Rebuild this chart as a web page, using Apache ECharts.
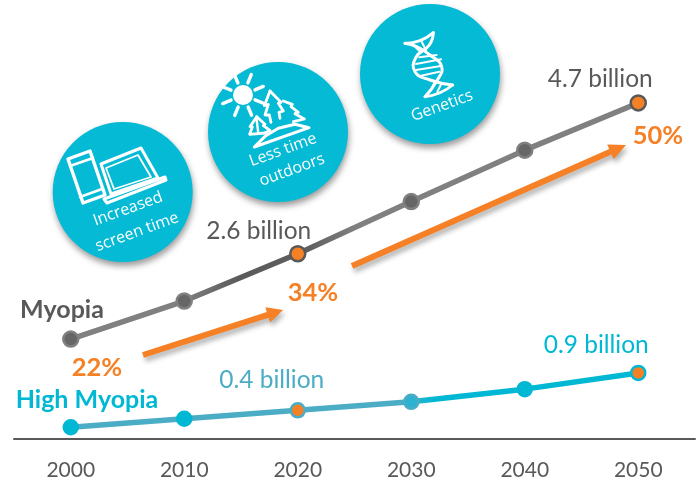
<!DOCTYPE html>
<html><head><meta charset="utf-8">
<style>html,body{margin:0;padding:0;background:#fff}#c{width:699px;height:481px}</style>
<script src="https://cdn.jsdelivr.net/npm/echarts@6/dist/echarts.min.js"></script>
</head><body><div id="c"></div>
<script>
const years = ['2000','2010','2020','2030','2040','2050'];
const myopia = [1.41, 1.95, 2.62, 3.36, 4.09, 4.76];
const highMyopia = [0.16, 0.28, 0.40, 0.52, 0.70, 0.93];
const myopiaLabels = {2: '2.6 billion', 5: '4.7 billion'};
const highLabels = {2: '0.4 billion', 5: '0.9 billion'};
const highlighted = [2, 5];

const GRAY='#595959', MID='#808080', TEAL='#00b8d4', STEEL='#4bacc6', ORANGE='#f58025';
const FONT='Lato', CIRCLE_FONT='"Open Sans"';
const chart = echarts.init(document.getElementById('c'));

function shadow(o){return Object.assign({shadowBlur:6,shadowOffsetX:1,shadowOffsetY:4,shadowColor:'rgba(0,0,0,.4)'},o);}
function disc(x,y){return {type:'circle',shape:{cx:x,cy:y,r:70},style:shadow({fill:'#05bad5'})};}
function rotText(t,x,y,size){return {type:'text',x:x,y:y,rotation:0.35,originX:0,originY:0,
  style:{text:t,fill:'#fff',font:(size||16)+'px '+CIRCLE_FONT,align:'center',verticalAlign:'middle'}};}
function label(t,x,y,col,size,w){return {type:'text',x:x,y:y,style:{text:t,fill:col,font:(w||'normal')+' '+size+'px '+FONT,align:'center',verticalAlign:'middle'}};}
function arrow(x1,y1,x2,y2,w,hw,hl){
  const d=Math.hypot(x2-x1,y2-y1),ux=(x2-x1)/d,uy=(y2-y1)/d,nx=-uy,ny=ux,bx=x2-ux*hl,by=y2-uy*hl;
  return {type:'polygon',shape:{points:[[x1+nx*w/2,y1+ny*w/2],[bx+nx*w/2,by+ny*w/2],[bx+nx*hw/2,by+ny*hw/2],[x2,y2],
    [bx-nx*hw/2,by-ny*hw/2],[bx-nx*w/2,by-ny*w/2],[x1-nx*w/2,y1-ny*w/2]]},
    style:{fill:ORANGE,shadowBlur:5,shadowOffsetX:2,shadowOffsetY:4,shadowColor:'rgba(0,0,0,.3)'}};
}
const Z=(ox,oy,pts)=>pts.map(p=>[ox+p[0]/3,oy+p[1]/3]);
function poly(points,w,closed,smooth){return {type:closed?'polygon':'polyline',shape:{points:points,smooth:smooth||0},
  style:{stroke:'#fff',lineWidth:w||2,fill:closed?'none':null,lineJoin:'round',lineCap:'round'}};}

const sunRays=[];
for(let i=0;i<8;i++){const a=(i*45+22)*Math.PI/180;
  sunRays.push(poly([[243+13*Math.cos(a),95+13*Math.sin(a)],[243+22*Math.cos(a),95+22*Math.sin(a)]],3.4));}

const icons=[
  // phone and laptop
  poly([[68,159],[90,151],[105,195],[83,203]],3.4,true),
  poly([[70,166],[93,158]],2.4), poly([[80,197],[102,189]],2.4),
  poly([[101,164],[141,148],[158,178],[111,194]],3,true),
  poly([[106,168],[138,155],[151,177],[114,189]],1.8,true),
  poly([[104,199],[165,177],[166,180],[107,203]],3,true),
  // sun and trees
  {type:'circle',shape:{cx:243,cy:95,r:10},style:{fill:'#fff'}},
  ...sunRays,
  poly(Z(215,65,[[165,78],[148,122],[160,118],[150,150],[163,150],[168,172]]),2.8),
  poly(Z(215,65,[[165,78],[198,112],[190,115],[205,138],[192,142],[195,160]]),2.8),
  poly(Z(215,65,[[205,108],[232,118],[228,125],[250,142],[240,146],[268,162],[235,170]]),2.8),
  poly(Z(215,65,[[125,155],[105,185],[112,186],[104,208],[150,204]]),2.8),
  poly(Z(215,65,[[125,155],[150,178],[145,182],[165,196],[150,204]]),2.8),
  poly(Z(215,65,[[125,165],[130,205]]),2.4),
  poly(Z(215,65,[[118,246],[150,214],[190,190],[240,178],[282,188]]),3,true,0),
  // DNA helix
  poly(Z(340,0,[[195,130],[230,140],[270,165],[305,200],[292,240],[255,290]]),3,false,0.5),
  poly(Z(340,0,[[280,98],[268,135],[228,172],[225,215],[270,240],[338,255]]),3,false,0.5),
  poly(Z(340,0,[[195,130],[240,122],[280,98]]),2.8,false,0.5),
  poly(Z(340,0,[[255,290],[300,278],[338,255]]),2.8,false,0.5),
  poly(Z(340,0,[[220,135],[240,155]]),2), poly(Z(340,0,[[245,125],[258,150]]),2),
  poly(Z(340,0,[[238,172],[290,165]]),2), poly(Z(340,0,[[228,192],[303,178]]),2),
  poly(Z(340,0,[[228,210],[303,198]]),2), poly(Z(340,0,[[240,228],[298,215]]),2),
  poly(Z(340,0,[[285,245],[270,275]]),2), poly(Z(340,0,[[305,250],[292,275]]),2)
];

function points(values,labels,labelStyle,fillFor,borderFor,size){
  return values.map((v,i)=>({
    value:v,
    symbolSize:size,
    itemStyle:{color:fillFor(i),borderColor:borderFor(i),borderWidth:2.5},
    label:labels[i]?Object.assign({show:true,formatter:labels[i]},labelStyle(i)):{show:false}
  }));
}
const isHi=i=>highlighted.indexOf(i)>=0;
const myoData=points(myopia,myopiaLabels,
  i=>({position:'top',offset:i===2?[-39,4]:[-38,2],color:GRAY,fontFamily:FONT,fontSize:24.5}),
  i=>isHi(i)?ORANGE:'#666666', i=>i===2||i===5?GRAY:MID, 15);
const hiData=points(highMyopia,highLabels,
  i=>({position:'top',offset:i===2?[-26,-4]:[-42,-2],color:i===2?STEEL:TEAL,fontFamily:FONT,fontSize:24.5}),
  i=>isHi(i)?ORANGE:(i===3?'#2cb2cf':TEAL), i=>i===2?STEEL:(i===3?STEEL:TEAL), 14);

chart.setOption({
  animation:false,
  grid:{left:14,width:681,top:15.5,height:423},
  xAxis:{type:'category',data:years,axisTick:{show:false},
    axisLine:{lineStyle:{color:GRAY,width:2}},
    axisLabel:{color:GRAY,fontFamily:FONT,fontSize:21,margin:21}},
  yAxis:{type:'value',min:0,max:6,show:false},
  graphic:{elements:[
    disc(122.7,192),disc(278,132),disc(430,74),
    ...icons,
    rotText('Increased',128,209),rotText('screen time',137,232),
    rotText('Less time',283,150),rotText('outdoors',292,170),
    rotText('Genetics',442,106),
    arrow(143,355,283,310,6,16,16),
    arrow(352,266,626,145,6,16,17),
    label('Myopia',62,310,GRAY,25,'bold'),
    label('High Myopia',87,400,TEAL,25,'bold'),
    label('22%',97,368,ORANGE,25.5,'bold'),
    label('34%',313,293,ORANGE,25.5,'bold'),
    label('50%',658,136,ORANGE,25.5,'bold')
  ]},
  series:[
    {name:'Myopia',type:'line',data:myoData,symbol:'circle',showSymbol:true,
     lineStyle:{width:5.5,color:new echarts.graphic.LinearGradient(0,0,1,0,[
       {offset:0,color:MID},{offset:.2,color:MID},{offset:.3,color:'#5a5a5a'},{offset:.42,color:'#5f5f5f'},{offset:.5,color:MID},{offset:1,color:MID}])}},
    {name:'High Myopia',type:'line',data:hiData,symbol:'circle',showSymbol:true,
     lineStyle:{width:5.5,color:new echarts.graphic.LinearGradient(0,0,1,0,[
       {offset:0,color:STEEL},{offset:.58,color:STEEL},{offset:.64,color:TEAL},{offset:1,color:TEAL}])}}
  ]
});
</script></body></html>
